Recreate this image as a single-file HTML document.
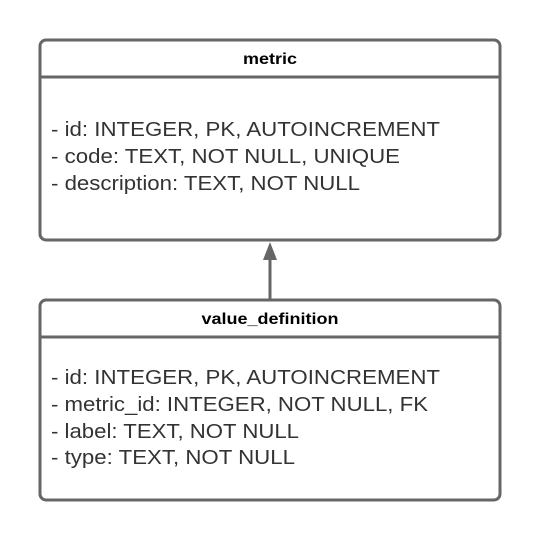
<!DOCTYPE html>
<html><head><style>
body{margin:0;background:#fff;}
</style></head><body>
<svg width="540" height="540" xmlns="http://www.w3.org/2000/svg" style="display:block">
<g fill="none" stroke="#666" stroke-width="3">
<rect x="40" y="40" width="460" height="200" rx="6"/>
<line x1="40" y1="77" x2="500" y2="77"/>
<rect x="40" y="300" width="460" height="200" rx="6"/>
<line x1="40" y1="337" x2="500" y2="337"/>
<line x1="270" y1="300" x2="270" y2="258"/>
</g>
<polygon points="270,242 263,260 277,260" fill="#666"/>
<g font-family="Liberation Sans, sans-serif" fill="#000" font-size="16" font-weight="bold" text-anchor="middle">
<text x="270" y="64" textLength="54" lengthAdjust="spacingAndGlyphs">metric</text>
<text x="270" y="324" textLength="137" lengthAdjust="spacingAndGlyphs">value_definition</text>
</g>
<g font-family="Liberation Sans, sans-serif" fill="#333" font-size="20" lengthAdjust="spacingAndGlyphs">
<text x="51" y="136" textLength="389" lengthAdjust="spacingAndGlyphs">- id: INTEGER, PK, AUTOINCREMENT</text>
<text x="51" y="163" textLength="349" lengthAdjust="spacingAndGlyphs">- code: TEXT, NOT NULL, UNIQUE</text>
<text x="51" y="190" textLength="309" lengthAdjust="spacingAndGlyphs">- description: TEXT, NOT NULL</text>
<text x="51" y="384" textLength="389" lengthAdjust="spacingAndGlyphs">- id: INTEGER, PK, AUTOINCREMENT</text>
<text x="51" y="411" textLength="377" lengthAdjust="spacingAndGlyphs">- metric_id: INTEGER, NOT NULL, FK</text>
<text x="51" y="438" textLength="248" lengthAdjust="spacingAndGlyphs">- label: TEXT, NOT NULL</text>
<text x="51" y="464" textLength="244" lengthAdjust="spacingAndGlyphs">- type: TEXT, NOT NULL</text>
</g>
</svg>
</body></html>
